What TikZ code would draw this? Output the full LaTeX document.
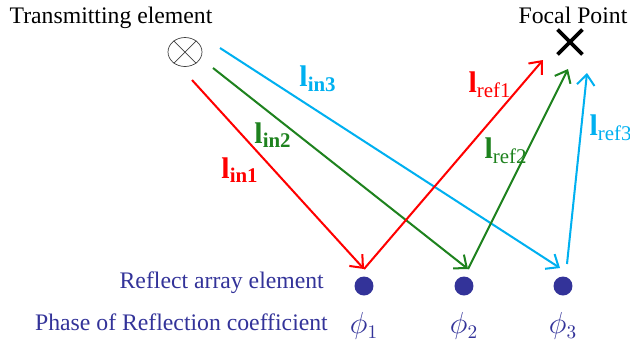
\documentclass[tikz,border=0pt]{standalone}
\usepackage{fontspec}
\setmainfont{Liberation Serif}
\usetikzlibrary{arrows.meta, calc, shapes.misc, shapes.geometric}
\definecolor{rayred}{HTML}{FF0000}
\definecolor{raygreen}{HTML}{1E821E}
\definecolor{rayblue}{HTML}{00B0F0}
\definecolor{arraynavy}{HTML}{333399}

\begin{document}
\begin{tikzpicture}[x=0.02cm, y=-0.02cm, font=\fontsize{13.5}{16}\selectfont,
  ray/.style={line width=1.15pt, -{Straight Barb[length=6pt,width=10pt]}},
  raylabel/.style={font=\fontsize{17}{19}\selectfont, inner sep=0pt}]
\useasboundingbox (0,0) rectangle (630,343);
% transmitter and focal point
\node (txlabel) at (111,18) {Transmitting element};
\node[draw=black!75, ellipse, minimum width=0.68cm, minimum height=0.58cm, inner sep=0pt] (tx) at (185,52) {};
\draw[black!75] (tx.45) -- (tx.225) (tx.135) -- (tx.315);
\node (fplabel) at (573,15) {Focal Point};
\node[cross out, draw, line width=2.2pt, minimum size=0.42cm, inner sep=0pt] (fp) at (570,42) {};
% array elements and phases
\foreach \i/\x in {1/364, 2/464, 3/563} {
  \node[circle, fill=arraynavy, minimum size=0.38cm, inner sep=0pt] (e\i) at (\x,286) {};
  \node[text=arraynavy, font=\fontsize{16}{18}\selectfont] (p\i) at (\x,326) {$\phi_\i$};
}
\node[anchor=east, text=arraynavy] (rlabel) at (330,283) {Reflect array element};
\node[anchor=east, text=arraynavy] (plabel) at (334,322) {Phase of Reflection coefficient};
% ray end points
\coordinate (s1) at (192,80);
\coordinate (s2) at (213,68);
\coordinate (s3) at (220,48);
\coordinate (a1) at (364,269);
\coordinate (a2) at (468,269);
\coordinate (a3) at (560,268);
\coordinate (b3) at (567,264);
\coordinate (f1) at (543,60);
\coordinate (f2) at (568,69);
\coordinate (f3) at (587,73);
% incident rays
\draw[ray, rayred] (s1) -- (a1);
\draw[ray, raygreen] (s2) -- (a2);
\draw[ray, rayblue] (s3) -- (a3);
% reflected rays
\draw[ray, rayred] (a1) -- (f1);
\draw[ray, raygreen] (a2) -- (f2);
\draw[ray, rayblue] (b3) -- (f3);
% labels
\node[raylabel, text=rayred] (lin1) at (240,170) {\textbf{l}\textsubscript{\textbf{in1}}};
\node[raylabel, text=raygreen] (lin2) at (273,135) {\textbf{l}\textsubscript{\textbf{in2}}};
\node[raylabel, text=rayblue] (lin3) at (318,79) {\textbf{l}\textsubscript{\textbf{in3}}};
\node[raylabel, text=rayred] (lref1) at (490,85) {\textbf{l}\textsubscript{ref1}};
\node[raylabel, text=raygreen] (lref2) at (506,151) {\textbf{l}\textsubscript{ref2}};
\node[raylabel, text=rayblue] (lref3) at (611,128) {\textbf{l}\textsubscript{ref3}};
\end{tikzpicture}
\end{document}
